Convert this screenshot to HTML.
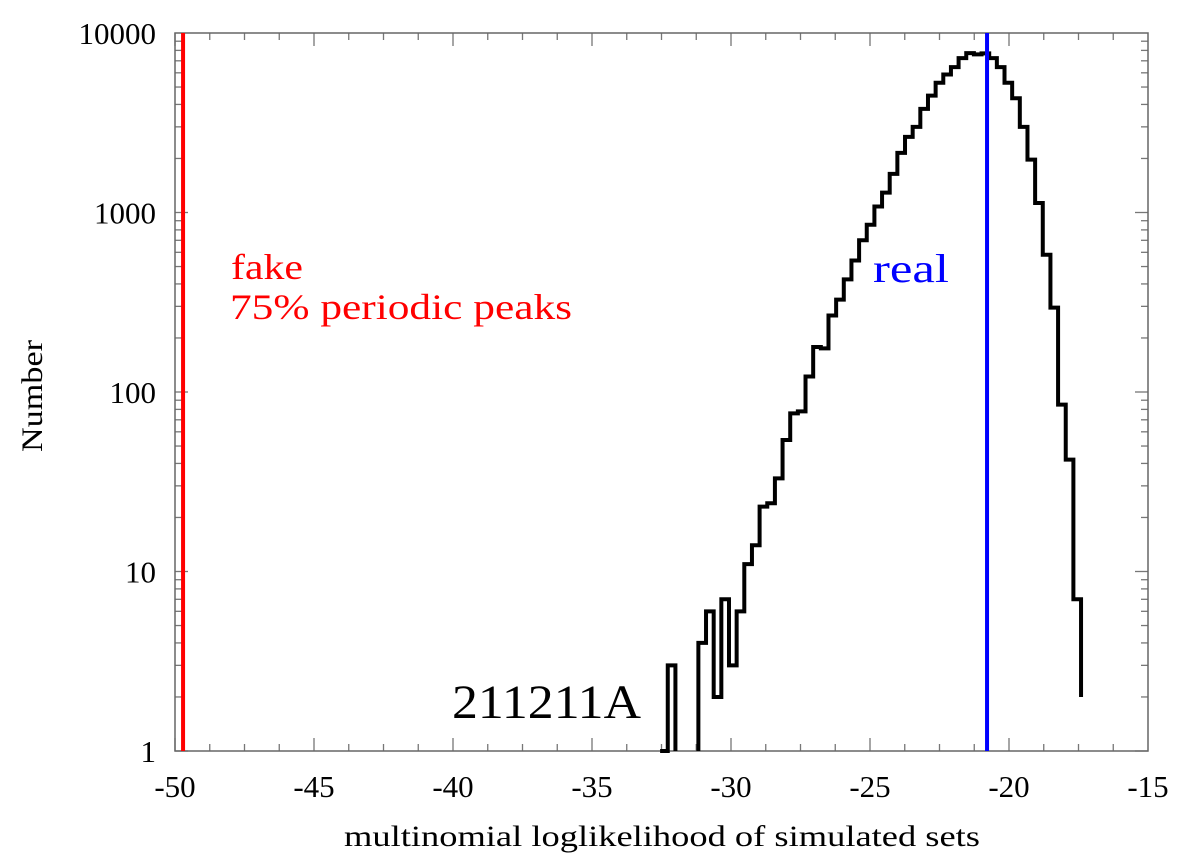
<!DOCTYPE html>
<html><head><meta charset="utf-8"><style>
body{margin:0;background:#fff}
svg text{font-family:"Liberation Serif",serif}
</style></head><body>
<svg id="chart" width="1200" height="858" xmlns="http://www.w3.org/2000/svg"></svg>
<script>
const binStart = -32.55;
const binWidth = 0.2753;
const counts = [1,3,0,0,0,4,6,2,7,3,6,11,14,23,24,33,54,76,78,122,178,175,267,327,424,540,700,855,1080,1290,1640,2150,2640,3000,3780,4480,5280,5870,6450,7250,7720,7600,7700,7250,6450,5280,4330,3000,1970,1130,582,295,85,42,7];
const endValue = 2;
const xTicks = [-50,-45,-40,-35,-30,-25,-20,-15];
const yTicks = [1,10,100,1000,10000];
const fakeX = -49.71;
const realX = -20.79;

const L=175,R=1148,T=33,B=751;
const xMin=-50,xMax=-15;
const X=v=>L+(v-xMin)/(xMax-xMin)*(R-L);
const Y=v=>B-(Math.log10(Math.max(v,1)))/4*(B-T);
const svg=document.getElementById('chart');
const NS='http://www.w3.org/2000/svg';
function mk(tag,attrs,parent){const e=document.createElementNS(NS,tag);for(const k in attrs)e.setAttribute(k,attrs[k]);(parent||svg).appendChild(e);return e;}

for(let i=0;i<xTicks.length;i++){
  const v=xTicks[i];
  const t=mk('text',{x:X(v),y:797,'text-anchor':'middle','font-size':31,fill:'#000'});
  
  
  t.textContent=v;
  if(i<xTicks.length-1){
    for(let k=0;k<4;k++){
      const xv=X(v+k*1.25), len=k===0?13:7;
      mk('line',{x1:xv,x2:xv,y1:B,y2:B-len,stroke:'#777','stroke-width':1.3});
      mk('line',{x1:xv,x2:xv,y1:T,y2:T+len,stroke:'#777','stroke-width':1.3});
    }
  }
}
for(let i=0;i<yTicks.length;i++){
  const v=yTicks[i];
  const t=mk('text',{x:156,y:Y(v)+11,'text-anchor':'end','font-size':31,fill:'#000'});
  
  
  t.textContent=v;
  if(i<yTicks.length-1){
    for(let k=1;k<10;k++){
      const yv=Y(v*k), len=k===1?13:7;
      mk('line',{x1:L,x2:L+len,y1:yv,y2:yv,stroke:'#777','stroke-width':1.3});
      mk('line',{x1:R,x2:R-len,y1:yv,y2:yv,stroke:'#777','stroke-width':1.3});
    }
  }
}
const frame=mk('rect',{x:L,y:T,width:R-L,height:B-T,fill:'none',stroke:'#666','stroke-width':1.5});



// histogram (zero bins not drawn)
let d='', pen=false;
for(let i=0;i<counts.length;i++){
  const x0=X(binStart+i*binWidth),x1=X(binStart+(i+1)*binWidth);
  if(counts[i]<=0){
    if(pen){d+='L'+x0+','+B;pen=false;}
    continue;
  }
  const y=Y(counts[i]);
  if(!pen){d+=(i>0?'M'+x0+','+B+'L':'M')+x0+','+y;pen=true;}
  else d+='L'+x0+','+y;
  d+='L'+x1+','+y;
}
d+='L'+X(binStart+counts.length*binWidth)+','+Y(endValue);
const h=mk('path',{d:d,fill:'none',stroke:'#000','stroke-width':4,'stroke-linejoin':'miter'});



const fl=mk('line',{x1:X(fakeX),x2:X(fakeX),y1:T,y2:B,stroke:'#f00','stroke-width':4});


const rl=mk('line',{x1:X(realX),x2:X(realX),y1:T,y2:B,stroke:'#00f','stroke-width':4});



function label(txt,x,y,size,fill,name,len,anchor,rot){
  const t=mk('text',{x:x,y:y,'font-size':size,fill:fill,'text-anchor':anchor||'start',textLength:len,lengthAdjust:'spacingAndGlyphs'});
  if(rot)t.setAttribute('transform',rot);
  
  
  t.textContent=txt;
}
label('fake',231,279,36,'#f00','fake-label',72);
label('75% periodic peaks',230,319,36,'#f00','fake-sublabel',342);
label('real',873,282,40,'#00f','real-label',76);
label('211211A',452,718,48,'#000','grb-label',189);
label('multinomial loglikelihood of simulated sets',662,846,30,'#000','x-axis-title',636,'middle');
label('Number',0,0,30,'#000','y-axis-title',112,'middle','translate(42,396) rotate(-90)');
</script>
</body></html>
